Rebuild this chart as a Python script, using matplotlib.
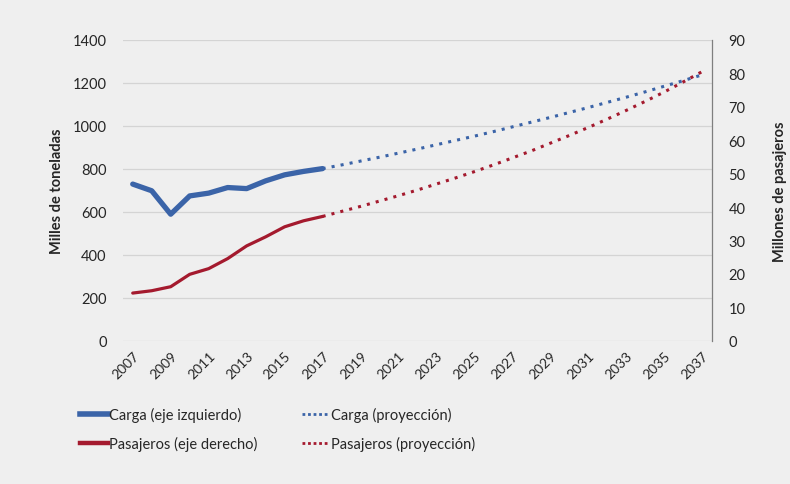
import matplotlib.pyplot as plt
from matplotlib.lines import Line2D

# datos historicos
years_hist = list(range(2007, 2018))
carga_hist = [729, 698, 589, 674, 687, 713, 708, 744, 772, 788, 801]
pasaj_hist = [14.3, 15.0, 16.2, 19.9, 21.6, 24.6, 28.4, 31.1, 34.1, 35.9, 37.2]

# proyecciones
years_proj = list(range(2017, 2038))
carga_proj = [801, 818, 836, 854, 873, 892, 912, 932, 952, 973, 995,
              1017, 1039, 1062, 1085, 1109, 1133, 1158, 1184, 1210, 1237]
pasaj_proj = [37.2, 38.7, 40.2, 41.8, 43.4, 45.1, 46.9, 48.7, 50.6, 52.6, 54.7,
              56.8, 59.1, 61.4, 63.8, 66.3, 68.9, 71.6, 74.4, 77.4, 80.5]

xticks = list(range(2007, 2038, 2))
left_ticks = list(range(0, 1401, 200))
right_ticks = list(range(0, 91, 10))

blue = '#3b64a8'
red = '#a41a2e'
bg = '#efefef'
txt = '#262626'

plt.rcParams['font.family'] = ['Lato', 'DejaVu Sans']

fig = plt.figure(figsize=(7.9, 4.85), dpi=100, facecolor=bg)
ax = fig.add_axes([0.156, 0.295, 0.745, 0.621])
ax.set_facecolor(bg)
ax2 = ax.twinx()

ax.plot(years_hist, carga_hist, color=blue, lw=3.8, solid_capstyle='round', zorder=3)
ax.plot(years_proj, carga_proj, color=blue, lw=2.2, linestyle=(0, (1, 2.0)), zorder=3)
ax2.plot(years_hist, pasaj_hist, color=red, lw=2.3, solid_capstyle='round', zorder=3)
ax2.plot(years_proj, pasaj_proj, color=red, lw=2.2, linestyle=(0, (1, 2.0)), zorder=3)

ax.set_xlim(2006.5, 2037.5)
ax.set_ylim(0, 1400)
ax2.set_ylim(0, 90)
ax.set_yticks(left_ticks)
ax2.set_yticks(right_ticks)
ax.set_xticks(xticks)
ax.set_xticklabels([str(y) for y in xticks], rotation=45, ha='right', va='top',
                   rotation_mode='anchor', fontsize=10, color=txt)
ax.tick_params(axis='x', length=0, pad=6)
ax.tick_params(axis='y', length=0, labelsize=10.5, labelcolor=txt, pad=12)
ax2.tick_params(axis='y', length=0, labelsize=10.5, labelcolor=txt, pad=12)

ax.grid(axis='y', color='#d4d4d4', lw=0.9)
ax.set_axisbelow(True)
for s in ['top', 'left', 'bottom', 'right']:
    ax.spines[s].set_visible(False)
for s in ['top', 'left', 'bottom']:
    ax2.spines[s].set_visible(False)
ax2.spines['right'].set_color('#7f7f7f')
ax2.spines['right'].set_linewidth(0.9)

ax.set_ylabel('Milles de toneladas', fontsize=10.5, fontweight='bold', color=txt, labelpad=6)
ax2.set_ylabel('Millones de pasajeros', fontsize=10.5, fontweight='bold', color=txt, labelpad=20)

handles = [
    Line2D([], [], color=blue, lw=4),
    Line2D([], [], color=red, lw=3.2),
    Line2D([], [], color=blue, lw=2.0, linestyle=(0, (1, 1.0))),
    Line2D([], [], color=red, lw=2.0, linestyle=(0, (1, 1.0))),
]
labels = ['Carga (eje izquierdo)', 'Pasajeros (eje derecho)',
          'Carga (proyección)', 'Pasajeros (proyección)']
fig.legend(handles, labels, loc='upper left', bbox_to_anchor=(0.085, 0.185), ncol=2,
           frameon=False, fontsize=10.5, handlelength=1.9, handletextpad=0.1,
           columnspacing=3.0, labelspacing=0.9, labelcolor=txt)

fig.savefig('out.png', dpi=100, facecolor=bg)
